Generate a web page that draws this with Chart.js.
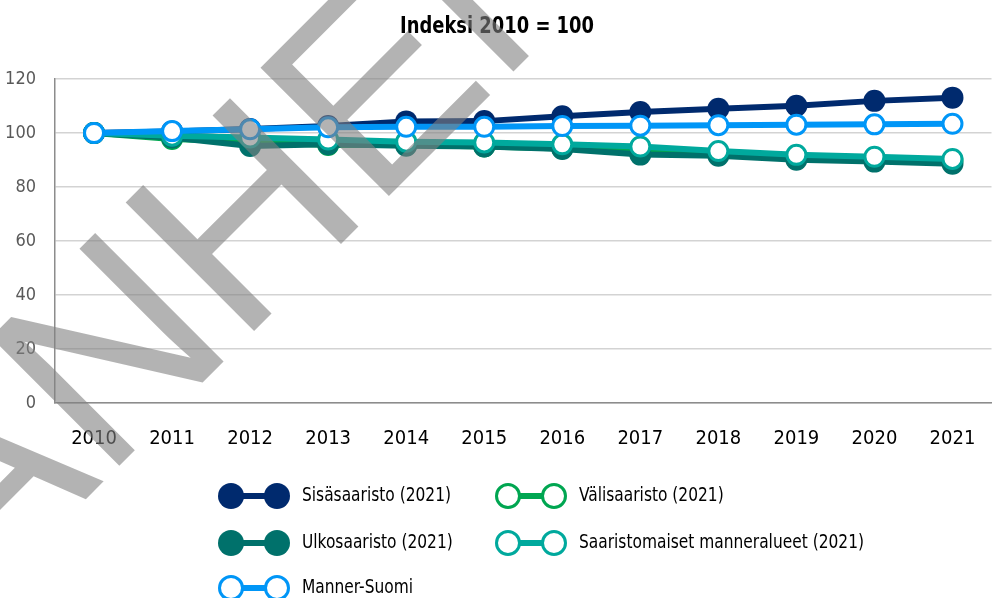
<!DOCTYPE html>
<html>
<head>
<meta charset="utf-8">
<script src="https://cdn.jsdelivr.net/npm/chart.js@4/dist/chart.umd.min.js"></script>
<style>
  html, body { margin: 0; padding: 0; background: #fff; overflow: hidden; }
  #wrap { width: 1004px; height: 598px; }
</style>
</head>
<body>
<div id="wrap"><canvas id="chart" width="1004" height="598"></canvas></div>
<script>
const years = ["2010", "2011", "2012", "2013", "2014", "2015", "2016", "2017", "2018", "2019", "2020", "2021"]
const yTicks = [0, 20, 40, 60, 80, 100, 120]

const sisasaaristo = [100, 100.6, 101.5, 102.6, 104.3, 104.4, 106.2, 107.8, 109.0, 110.1, 111.9, 113.1]
const valisaaristo = [100, 97.8, 96.8, 95.6, 95.6, 95.0, 94.3, 93.2, 92.5, 91.3, 90.6, 89.9]
const ulkosaaristo = [100, 98.3, 95.2, 95.8, 95.3, 95.0, 94.1, 92.0, 91.6, 90.1, 89.4, 88.6]
const manneralueet = [100, 99.0, 98.3, 97.6, 96.8, 96.5, 95.8, 95.0, 93.3, 91.9, 91.2, 90.4]
const mannerSuomi = [100, 100.7, 101.4, 102.1, 102.3, 102.3, 102.6, 102.7, 102.9, 103.1, 103.2, 103.4]

const FONT = "'Liberation Sans Narrow', 'DejaVu Sans Condensed', 'Liberation Sans', sans-serif"

function series(label, data, color, filled, order) {
  return {
    label,
    data,
    order,
    borderColor: color,
    backgroundColor: color,
    borderWidth: 6,
    tension: 0,
    pointRadius: filled ? 11 : 9.5,
    pointHoverRadius: filled ? 11 : 9.5,
    pointBorderWidth: filled ? 0 : 3,
    pointBorderColor: color,
    pointBackgroundColor: filled ? color : "#ffffff",
    filled
  }
}

const datasets = [
  series("Sisäsaaristo (2021)", sisasaaristo, "#002a6e", true, 4),
  series("Välisaaristo (2021)", valisaaristo, "#00a651", false, 3),
  series("Ulkosaaristo (2021)", ulkosaaristo, "#00716b", true, 2),
  series("Saaristomaiset manneralueet (2021)", manneralueet, "#00a99d", false, 1),
  series("Manner-Suomi", mannerSuomi, "#0096f7", false, 0)
]

// legend grid: [column x, row y] per dataset
const legendSlots = [[218, 496], [495, 496], [218, 543], [495, 543], [218, 588]]

const extras = {
  id: "extras",
  afterDraw(chart) {
    const ctx = chart.ctx
    ctx.save()
    ctx.fillStyle = "#000"
    ctx.textBaseline = "middle"

    // title, squeezed to the condensed width of the original
    ctx.font = "bold 23px " + FONT
    ctx.textAlign = "center"
    const title = "Indeksi 2010 = 100"
    const tsx = 194 / ctx.measureText(title).width
    ctx.save()
    ctx.translate(497, 27)
    ctx.scale(tsx, 1)
    ctx.fillText(title, 0, 0)
    ctx.restore()

    ctx.font = "20px " + FONT
    const lsx = 285 / ctx.measureText(datasets[3].label).width
    chart.data.datasets.forEach((ds, i) => {
      const [x, y] = legendSlots[i]
      ctx.strokeStyle = ds.borderColor
      ctx.lineWidth = 6
      ctx.beginPath()
      ctx.moveTo(x + 12, y)
      ctx.lineTo(x + 60, y)
      ctx.stroke()
      ;[x + 13, x + 59].forEach(cx => {
        ctx.beginPath()
        ctx.arc(cx, y, ds.filled ? 13 : 11.5, 0, Math.PI * 2)
        ctx.fillStyle = ds.filled ? ds.borderColor : "#fff"
        ctx.fill()
        if (!ds.filled) {
          ctx.lineWidth = 3
          ctx.stroke()
        }
      })
      ctx.fillStyle = "#000"
      ctx.textAlign = "left"
      ctx.save()
      ctx.translate(x + 84, y)
      ctx.scale(lsx, 1)
      ctx.fillText(ds.label, 0, 0)
      ctx.restore()
    })

    // draft watermark, drawn over everything
    ctx.font = "264px 'Liberation Sans', sans-serif"
    ctx.textAlign = "left"
    ctx.textBaseline = "alphabetic"
    ctx.fillStyle = "rgba(128,128,128,0.6)"
    ctx.translate(104, 481)
    ctx.rotate(-Math.PI / 4)
    ctx.fillText("VANHENTUNUT", -ctx.measureText("VA").width, 0)
    ctx.restore()
  }
}

new Chart(document.getElementById("chart").getContext("2d"), {
  type: "line",
  data: { labels: years, datasets },
  plugins: [extras],
  options: {
    responsive: false,
    animation: false,
    devicePixelRatio: 1,
    layout: { padding: { top: 79, bottom: 135, left: 0, right: 0 } },
    plugins: {
      legend: { display: false },
      title: { display: false },
      tooltip: { enabled: false }
    },
    scales: {
      x: {
        offset: true,
        grid: { display: false },
        border: { color: "#8c8c8c", width: 1.5 },
        ticks: { color: "#000", font: { size: 20, family: FONT }, padding: 16, maxRotation: 0 },
        afterFit: s => { s.height = 60 }
      },
      y: {
        min: 0,
        max: 120,
        afterBuildTicks: s => { s.ticks = yTicks.map(v => ({ value: v })) },
        grid: { color: "#d3d3d3", lineWidth: 1.5, drawTicks: false },
        border: { color: "#8c8c8c", width: 1.5 },
        ticks: { color: "#595959", font: { size: 18, family: FONT }, padding: 19 },
        afterFit: s => { s.width = 55 }
      }
    }
  }
})
</script>
</body>
</html>
